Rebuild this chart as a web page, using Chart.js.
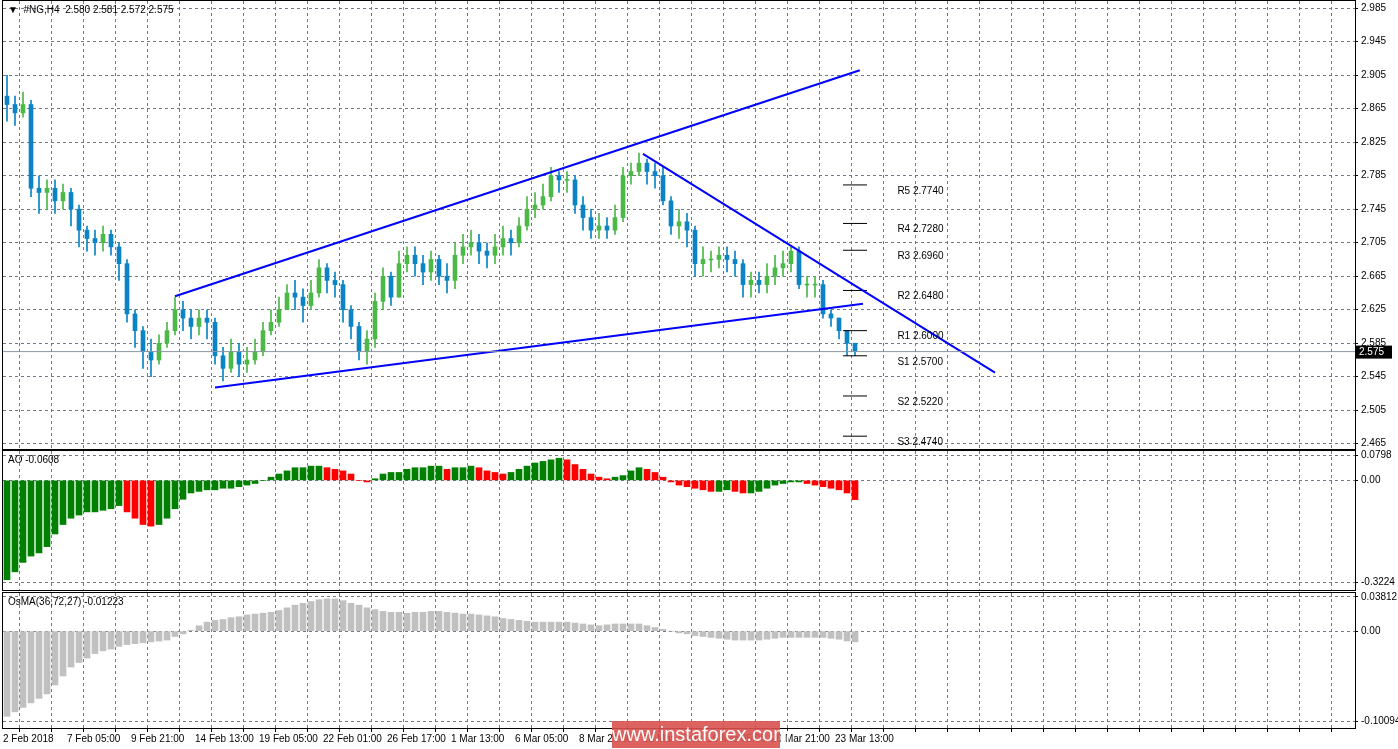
<!DOCTYPE html>
<html><head><meta charset="utf-8">
<script src="https://cdn.jsdelivr.net/npm/chart.js@4.4.1/dist/chart.umd.min.js"></script>
<style>
html,body{margin:0;padding:0;background:#fff;width:1398px;height:749px;overflow:hidden;font-family:"Liberation Sans",sans-serif}
canvas{position:absolute;left:0}
#wm{position:absolute;left:612px;top:721px;width:168px;height:27px;background:#d9534f;opacity:.9;color:#fff;font:20px "Liberation Sans",sans-serif;text-align:center;line-height:27px}
</style></head><body>
<div id="wrap"></div>
<div id="wm">www.instaforex.com</div>
<script>
const closes=[2.870,2.860,2.870,2.770,2.765,2.770,2.755,2.765,2.745,2.720,
2.710,2.705,2.715,2.700,2.680,2.620,2.600,2.575,2.565,2.585,
2.600,2.625,2.615,2.605,2.615,2.610,2.570,2.555,2.575,2.560,
2.565,2.575,2.600,2.610,2.625,2.645,2.640,2.630,2.645,2.675,
2.660,2.655,2.625,2.605,2.575,2.590,2.635,2.665,2.640,2.680,
2.690,2.680,2.670,2.685,2.665,2.660,2.690,2.700,2.705,2.695,
2.690,2.700,2.710,2.705,2.725,2.745,2.750,2.760,2.785,2.780,
2.780,2.750,2.735,2.720,2.725,2.720,2.735,2.785,2.790,2.800,
2.790,2.785,2.755,2.725,2.730,2.720,2.680,2.685,2.685,2.690,
2.685,2.680,2.655,2.660,2.655,2.665,2.675,2.680,2.695,2.655,
2.655,2.655,2.620,2.615,2.600,2.585,2.575];
const firstOpen=2.880;
const highs=[2.905,2.880,2.885,2.875,2.785,2.780,2.780,2.775,2.770,2.750,
2.725,2.720,2.725,2.720,2.705,2.685,2.625,2.605,2.590,2.595,
2.610,2.640,2.635,2.625,2.625,2.625,2.615,2.580,2.590,2.585,
2.580,2.590,2.610,2.625,2.640,2.655,2.660,2.650,2.660,2.685,
2.680,2.670,2.660,2.630,2.610,2.600,2.645,2.675,2.670,2.695,
2.700,2.700,2.690,2.695,2.690,2.680,2.705,2.715,2.720,2.715,
2.705,2.715,2.725,2.720,2.735,2.760,2.765,2.775,2.795,2.790,
2.790,2.785,2.760,2.745,2.740,2.735,2.750,2.795,2.800,2.812,
2.805,2.800,2.795,2.760,2.745,2.740,2.725,2.700,2.695,2.700,
2.700,2.695,2.685,2.670,2.670,2.680,2.690,2.695,2.700,2.700,
2.665,2.665,2.660,2.625,2.610,2.600,2.585];
const lows=[2.850,2.845,2.855,2.760,2.740,2.745,2.740,2.745,2.725,2.700,
2.695,2.690,2.695,2.690,2.660,2.610,2.580,2.555,2.545,2.560,
2.580,2.595,2.600,2.590,2.595,2.590,2.560,2.540,2.550,2.545,
2.550,2.560,2.570,2.595,2.605,2.625,2.625,2.610,2.625,2.640,
2.645,2.640,2.610,2.590,2.565,2.560,2.580,2.625,2.630,2.640,
2.670,2.665,2.655,2.660,2.655,2.645,2.650,2.680,2.690,2.680,
2.675,2.680,2.690,2.690,2.700,2.720,2.735,2.745,2.755,2.765,
2.765,2.740,2.720,2.710,2.710,2.710,2.715,2.730,2.775,2.785,
2.775,2.770,2.750,2.715,2.710,2.700,2.665,2.665,2.670,2.675,
2.670,2.665,2.640,2.640,2.645,2.645,2.655,2.665,2.670,2.650,
2.640,2.640,2.615,2.605,2.590,2.570,2.570];
const aoValues=[-0.315,-0.290,-0.260,-0.240,-0.230,-0.210,-0.170,-0.140,-0.120,-0.110,
-0.100,-0.100,-0.095,-0.090,-0.080,-0.100,-0.120,-0.140,-0.145,-0.140,
-0.120,-0.090,-0.060,-0.040,-0.035,-0.030,-0.030,-0.025,-0.025,-0.020,
-0.015,-0.010,0.000,0.010,0.020,0.030,0.040,0.040,0.045,0.045,
0.040,0.035,0.030,0.020,0.000,-0.005,0.005,0.020,0.025,0.025,
0.035,0.040,0.040,0.045,0.045,0.035,0.040,0.040,0.045,0.040,
0.030,0.025,0.020,0.025,0.035,0.045,0.055,0.060,0.065,0.070,
0.065,0.050,0.035,0.020,0.010,0.005,0.010,0.015,0.030,0.040,
0.035,0.025,0.010,-0.005,-0.015,-0.020,-0.025,-0.030,-0.035,-0.035,
-0.030,-0.035,-0.040,-0.040,-0.035,-0.025,-0.015,-0.010,-0.005,-0.005,
-0.010,-0.015,-0.020,-0.025,-0.030,-0.040,-0.061];
const osmaValues=[-0.095,-0.090,-0.085,-0.080,-0.075,-0.070,-0.060,-0.050,-0.040,-0.035,
-0.030,-0.025,-0.022,-0.020,-0.017,-0.015,-0.014,-0.013,-0.012,-0.011,
-0.010,-0.006,-0.003,0.001,0.006,0.010,0.012,0.013,0.015,0.016,
0.018,0.019,0.020,0.021,0.023,0.026,0.029,0.031,0.033,0.035,
0.036,0.036,0.034,0.031,0.029,0.026,0.024,0.022,0.021,0.021,
0.020,0.021,0.021,0.022,0.022,0.021,0.020,0.019,0.019,0.018,
0.017,0.016,0.014,0.013,0.012,0.011,0.010,0.010,0.010,0.010,
0.010,0.009,0.008,0.007,0.006,0.007,0.008,0.008,0.008,0.008,
0.006,0.004,0.002,0.000,-0.002,-0.003,-0.005,-0.006,-0.007,-0.008,
-0.009,-0.010,-0.010,-0.010,-0.010,-0.009,-0.008,-0.007,-0.007,-0.007,
-0.007,-0.007,-0.007,-0.008,-0.009,-0.011,-0.012];
const timeLabels=["2 Feb 2018","7 Feb 05:00","9 Feb 21:00","14 Feb 13:00","19 Feb 05:00","22 Feb 01:00","26 Feb 17:00","1 Mar 13:00","6 Mar 05:00","8 Mar 21:00","13 Mar 13:00","16 Mar 05:00","20 Mar 21:00","23 Mar 13:00"];
const priceTicks=[2.985,2.945,2.905,2.865,2.825,2.785,2.745,2.705,2.665,2.625,2.585,2.545,2.505,2.465];
const aoTicks=[0.0798,0,-0.3224];
const osmaTicks=[0.03812,0,-0.10094];
const upperLine=[[21.5,2.641],[107.1,2.911]];
const lowerLine=[[26.5,2.532],[107.5,2.632]];
const downLine=[[80,2.811],[124,2.550]];
const pivotValues=[2.774,2.728,2.696,2.648,2.600,2.570,2.522,2.474];
const pivotLabels=["R5 2.7740","R4 2.7280","R3 2.6960","R2 2.6480","R1 2.6000","S1 2.5700","S2 2.5220","S3 2.4740"];
const lastPrice=2.575;
const header="#NG,H4  2.580 2.581 2.572 2.575";

const XMAX=169, FONT='10px "Liberation Sans"';
const opens=closes.map((c,i)=>i===0?firstOpen:closes[i-1]);
const UP='#4cb848', DN='#0a84c4', GRID='#6f7b8b';
function xAxis(showTicks){
  return {type:'linear',min:0,max:XMAX,offset:false,
    afterBuildTicks:s=>{const t=[];for(let v=4;v<XMAX;v+=4)t.push({value:v});if(showTicks){t.unshift({value:0});}s.ticks=t;},
    grid:{color:GRID,drawTicks:showTicks,tickLength:4,tickColor:'#000',lineWidth:c=>c.tick&&c.tick.value===0?0:1},
    border:{display:false,dash:[3,3]},
    ticks:{display:showTicks,maxRotation:0,autoSkip:false,align:'start',padding:1,color:'#000',font:{family:'Liberation Sans',size:10},
      callback:v=>{if(v%8!==0)return '';const k=v/8;return timeLabels[k]||'';}},
    afterFit:s=>{if(!showTicks)s.height=0;}};
}
function yAxis(min,max,ticks,fmt){
  return {position:'right',min,max,afterBuildTicks:s=>{s.ticks=ticks.map(v=>({value:v}));},
    grid:{color:GRID,drawTicks:true,tickLength:3,tickColor:'#000'},
    border:{display:false,dash:[3,3]},
    ticks:{color:'#000',font:{family:'Liberation Sans',size:10},padding:3,callback:fmt},
    afterFit:s=>{s.width=43;}};
}
const frame={id:'frame',afterDraw(c,a,o){const x=c.ctx,ca=c.chartArea;x.save();x.strokeStyle='#000';x.lineWidth=1;
  x.strokeRect(Math.round(ca.left)-0.5,Math.round(ca.top)-0.5,Math.round(ca.right-ca.left)+1,Math.round(ca.bottom-ca.top)+1);
  x.fillStyle='#000';x.font=FONT;x.textBaseline='top';
  if(o.title)x.fillText(o.title,ca.left+5,ca.top+4);
  if(o.draw)o.draw(c,x);x.restore();}};
function pts(a){return a.map(p=>({x:p[0],y:p[1]}));}
const lineDs=(d,col,w)=>({type:'line',data:d,borderColor:col,borderWidth:w,pointRadius:0,tension:0,order:0});
function makePanel(top,h,cfg){
  const wrap=document.getElementById('wrap');
  let cv=document.createElement('canvas');cv.width=1398;cv.height=h;wrap.appendChild(cv);
  let ch=new Chart(cv,cfg());
  const gt=ch.chartArea.top,gb=cv.height-ch.chartArea.bottom;ch.destroy();cv.remove();
  cv=document.createElement('canvas');cv.width=1398;cv.height=Math.round(h+gt+gb);
  cv.style.width='1398px';cv.style.height=cv.height+'px';cv.style.top=(top-gt)+'px';wrap.appendChild(cv);
  return new Chart(cv,cfg());
}

makePanel(1,448,()=>{
  const ds1=[];
  ds1.push({type:'bar',data:closes.map((c,i)=>({x:i+0.5,y:[Math.min(lows[i],c,opens[i]),Math.max(highs[i],c,opens[i])]})),
    backgroundColor:closes.map((c,i)=>c>=opens[i]?UP:DN),barThickness:1,grouped:false,order:2});
  ds1.push({type:'bar',data:closes.map((c,i)=>({x:i+0.5,y:c===opens[i]?[c-0.0006,c+0.0006]:[opens[i],c]})),
    backgroundColor:closes.map((c,i)=>c>=opens[i]?UP:DN),barThickness:4,grouped:false,order:1});
  ds1.push(lineDs([{x:0,y:lastPrice},{x:XMAX,y:lastPrice}],'#8a96a6',1));
  ds1.push(lineDs(pts(upperLine),'#0000ff',2));
  ds1.push(lineDs(pts(lowerLine),'#0000ff',2));
  ds1.push(lineDs(pts(downLine),'#0000ff',2));
  pivotValues.forEach(v=>ds1.push(lineDs([{x:105,y:v},{x:108,y:v}],'#000',1)));
  return {data:{datasets:ds1},
  options:{responsive:false,animation:false,layout:{padding:{left:3,top:0,bottom:0,right:0}},
    plugins:{legend:{display:false},tooltip:{enabled:false},
      frame:{title:'\u25BC  '+header,draw:(c,x)=>{const xs=c.scales.x,ys=c.scales.y;
        pivotLabels.forEach((t,i)=>x.fillText(t,xs.getPixelForValue(111.8),ys.getPixelForValue(pivotValues[i])+1));
        const py=ys.getPixelForValue(lastPrice);x.fillStyle='#000';x.fillRect(c.chartArea.right+1,py-6,36,13);
        x.fillStyle='#fff';x.textBaseline='middle';x.fillText(lastPrice.toFixed(3),c.chartArea.right+4,py+0.5);}}},
    scales:{x:xAxis(false),y:yAxis(2.4587,2.9936,priceTicks,v=>v.toFixed(3))}},plugins:[frame]};});

makePanel(451,139,()=>({data:{datasets:[{type:'bar',data:aoValues.map((v,i)=>({x:i+0.5,y:v})),
  backgroundColor:aoValues.map((v,i)=>i>0&&v<aoValues[i-1]?'#ff0000':'#008000'),barThickness:6}]},
  options:{responsive:false,animation:false,layout:{padding:{left:3,top:0,bottom:0,right:0}},
    plugins:{legend:{display:false},tooltip:{enabled:false},frame:{title:'AO -0.0608'}},
    scales:{x:xAxis(false),y:yAxis(-0.3475,0.0930,aoTicks,v=>v===0?'0.00':String(v))}},plugins:[frame]}));

makePanel(593,135,()=>({data:{datasets:[{type:'bar',data:osmaValues.map((v,i)=>({x:i+0.5,y:v})),
  backgroundColor:'#c0c0c0',barThickness:6}]},
  options:{responsive:false,animation:false,layout:{padding:{left:3,top:0,bottom:0,right:0}},
    plugins:{legend:{display:false},tooltip:{enabled:false},frame:{title:'OsMA(36,72,27) -0.01223'}},
    scales:{x:xAxis(true),y:yAxis(-0.1080,0.0425,osmaTicks,v=>v===0?'0.00':String(v))}},plugins:[frame]}));
</script></body></html>
